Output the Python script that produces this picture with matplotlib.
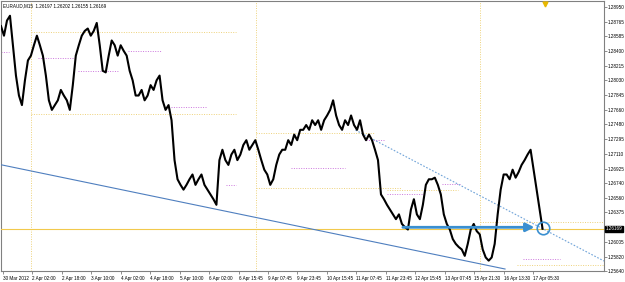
import numpy as np
import matplotlib
matplotlib.use("Agg")
import matplotlib.pyplot as plt
import matplotlib.transforms as mtransforms

plt.rcParams['font.family'] = ['Liberation Sans', 'DejaVu Sans']

symbol_title = "EURAUD,M15  1.26197 1.26202 1.26155 1.26169"
last_price = 1.26169

close_prices = [
    1.2871, 1.2859, 1.2878, 1.2884, 1.2847, 1.2809, 1.2784, 1.2772, 1.2803, 1.2828,
    1.2834, 1.2847, 1.2859, 1.2847, 1.2834, 1.2809, 1.2778, 1.2766, 1.2772, 1.2778,
    1.2791, 1.2784, 1.2778, 1.2766, 1.2797, 1.2834, 1.2847, 1.2859, 1.2865, 1.2868,
    1.2859, 1.2865, 1.2875, 1.2847, 1.2815, 1.2813, 1.2834, 1.2853, 1.2847, 1.2834,
    1.2847, 1.2840, 1.2834, 1.2815, 1.2803, 1.2784, 1.2784, 1.2791, 1.2778, 1.2784,
    1.2797, 1.2791, 1.2803, 1.2809, 1.2778, 1.2766, 1.2772, 1.2753, 1.2703, 1.2679,
    1.2672, 1.2666, 1.2672, 1.2679, 1.2685, 1.2672, 1.2679, 1.2685, 1.2672, 1.2666,
    1.2660, 1.2654, 1.2647, 1.2703, 1.2716, 1.2703, 1.2697, 1.2710, 1.2716, 1.2703,
    1.2710, 1.2722, 1.2728, 1.2716, 1.2722, 1.2728, 1.2716, 1.2703, 1.2691, 1.2685,
    1.2672, 1.2679, 1.2697, 1.2710, 1.2716, 1.2716, 1.2728, 1.2722, 1.2735, 1.2728,
    1.2741, 1.2741, 1.2747, 1.2741, 1.2753, 1.2747, 1.2753, 1.2741, 1.2753, 1.2759,
    1.2766, 1.2778, 1.2759, 1.2747, 1.2741, 1.2753, 1.2747, 1.2759, 1.2747, 1.2741,
    1.2753, 1.2735, 1.2728, 1.2735, 1.2728, 1.2716, 1.2703, 1.2660, 1.2654, 1.2647,
    1.2641, 1.2635, 1.2629, 1.2635, 1.2623, 1.2619, 1.2616, 1.2641, 1.2654, 1.2635,
    1.2629, 1.2647, 1.2672, 1.2679, 1.2679, 1.2681, 1.2672, 1.2660, 1.2635, 1.2623,
    1.2616, 1.2604, 1.2598, 1.2594, 1.2591, 1.2583, 1.2598, 1.2616, 1.2623, 1.2614,
    1.2610, 1.2591, 1.2581, 1.2577, 1.2581, 1.2598, 1.2635, 1.2666, 1.2685, 1.2685,
    1.2679, 1.2691, 1.2681, 1.2688, 1.2697, 1.2703, 1.2710, 1.2716, 1.2691, 1.2666,
    1.2641, 1.26169,
]
sample_step_bars = 6.5
first_bar = -4

x_tick_labels = ["30 Mar 2012", "2 Apr 02:00", "2 Apr 18:00", "3 Apr 10:00", "4 Apr 02:00",
                 "4 Apr 18:00", "5 Apr 10:00", "6 Apr 02:00", "6 Apr 15:45", "9 Apr 07:45",
                 "9 Apr 23:45", "10 Apr 15:45", "11 Apr 07:45", "11 Apr 23:45", "12 Apr 15:45",
                 "13 Apr 07:45", "15 Apr 21:30", "16 Apr 13:30", "17 Apr 05:30"]
bars_per_label = 64

y_tick_values = [1.28950, 1.28765, 1.28585, 1.28400, 1.28215, 1.28030, 1.27845, 1.27660,
                 1.27480, 1.27295, 1.27110, 1.26925, 1.26740, 1.26560, 1.26375, 1.26005,
                 1.25820, 1.25640]

# dotted level segments: (start bar, end bar, price)
yellow_levels = [(61, 506, 1.28639), (61, 506, 1.27606), (549, 809, 1.27370),
                 (549, 864, 1.26685), (835, 989, 1.26661), (1037, 1306, 1.26250),
                 (1117, 1306, 1.25715)]
pink_levels = [(-4, 13, 1.28390), (76, 152, 1.28316), (163, 250, 1.28142), (271, 343, 1.28403),
               (365, 441, 1.27694), (484, 506, 1.26723), (625, 744, 1.26934), (788, 827, 1.27283),
               (835, 918, 1.26611), (955, 994, 1.26735), (1130, 1210, 1.25790)]
session_bars = [61, 549, 1037]

trend_solid = [(-4, 1.26972), (1091, 1.25665)]
trend_dotted = [(766, 1.27407), (1306, 1.25765)]
arrow_line = [(863, 1.26188), (1161, 1.26188)]
circle_point = (1174, 1.26175)
marker_top = (1178, 1.28990)

xlim = (-4, 1306)
ylim = (1.25652, 1.29025)

fig = plt.figure(figsize=(6.25, 2.82), dpi=100)
fig.patch.set_facecolor('white')
ax = fig.add_axes([0.0016, 11 / 282, 603 / 625, 270 / 282])
ax.set_xlim(*xlim)
ax.set_ylim(*ylim)

bars = first_bar + np.arange(len(close_prices)) * sample_step_bars
ax.plot(bars, close_prices, color='black', lw=1.5, zorder=5)

for b0, b1, p in yellow_levels:
    ax.plot([b0, b1], [p, p], color='#EED27A', lw=0.7, ls=(0, (1, 1.5)), zorder=2)
for b0, b1, p in pink_levels:
    ax.plot([b0, b1], [p, p], color='#CC77DD', lw=0.7, ls=(0, (1, 1.5)), zorder=2)
for b in session_bars:
    ax.axvline(b, color='#EED27A', lw=0.7, ls=(0, (1, 1.5)), zorder=2)

ax.axhline(last_price, color='#F2C94C', lw=0.8, zorder=3)

(tx0, ty0), (tx1, ty1) = trend_solid
ax.plot([tx0, tx1], [ty0, ty1], color='#4F7FBF', lw=0.8, zorder=4)
(dx0, dy0), (dx1, dy1) = trend_dotted
ax.plot([dx0, dx1], [dy0, dy1], color='#6FA3D8', lw=0.8, ls=(0, (1.5, 1.5)), zorder=4)

(ax0, ay0), (ax1, ay1) = arrow_line
ax.annotate('', xy=(ax1, ay1), xytext=(ax0, ay0),
            arrowprops=dict(arrowstyle='-|>,head_length=0.5,head_width=0.25', color='#3A8FD0', lw=2),
            zorder=6)
ax.plot([circle_point[0]], [circle_point[1]], marker='o', ms=9, mfc='none', mec='#3A8FD0',
        mew=1.2, zorder=7)
ax.plot([marker_top[0]], [marker_top[1]], marker='v', ms=3.5, color='#E8B800', zorder=7)

ax.set_xticks([i * bars_per_label for i in range(len(x_tick_labels))])
ax.set_xticklabels(x_tick_labels, ha='left', fontsize=3.3)
ax.set_yticks(y_tick_values)
ax.set_yticklabels([f"{v:.5f}" for v in y_tick_values], fontsize=3.3)
ax.yaxis.tick_right()
ax.tick_params(axis='both', direction='out', length=2, width=0.5, color='#606060', pad=1)
ax.tick_params(axis='x', pad=1.5)
for sp in ax.spines.values():
    sp.set_color('#808080')
    sp.set_linewidth(0.8)

trans = mtransforms.blended_transform_factory(ax.transAxes, ax.transData)
ax.text(1.003, last_price, "1.26169", transform=trans, fontsize=3.3, color='white',
        va='center', ha='left', zorder=10, clip_on=False,
        bbox=dict(boxstyle='square,pad=0.15', fc='black', ec='black'))
ax.text(0.004, 0.993, symbol_title, transform=ax.transAxes, fontsize=3.3, color='black',
        va='top', ha='left', zorder=10)

fig.savefig('out.png', dpi=100, facecolor='white')
